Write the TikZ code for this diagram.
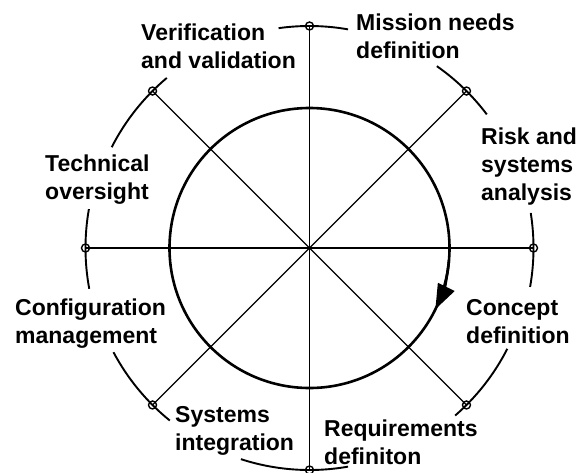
\documentclass[tikz,border=0pt]{standalone}
\usepackage{fontspec}
\setmainfont{Liberation Sans}
\usetikzlibrary{arrows.meta}

\begin{document}
\begin{tikzpicture}[x=1pt,y=1pt,>={Triangle[length=25pt,width=18pt]},
                    font=\fontsize{23}{28}\selectfont\bfseries]
	\tikzstyle{dot}=[circle,draw=black,fill=none,line width=1.4pt,inner sep=0pt,minimum size=8pt]
	\tikzstyle{spoke}=[line width=1.2pt]
	\tikzstyle{rim}=[line width=1.9pt]
	\tikzstyle{phase}=[anchor=base west,align=left,inner sep=0pt]
	\def\R{222}
	\useasboundingbox (-309.5,-224) rectangle (275.5,248);

	\node[dot] (N)  at (90:\R)  {};
	\node[dot] (NE) at (45:\R)  {};
	\node[dot] (E)  at (0:224)  {};
	\node[dot] (SE) at (-45:\R) {};
	\node[dot] (S)  at (-90:\R) {};
	\node[dot] (SW) at (225:\R) {};
	\node[dot] (W)  at (180:224) {};
	\node[dot] (NW) at (135:\R) {};

	\draw[spoke] (N.center) -- (S.center);
	\draw[spoke] (W.center) -- (E.center);
	\draw[spoke] (NW.center) -- (SE.center);
	\draw[spoke] (NE.center) -- (SW.center);

	\draw[line width=2.6pt] (0,0) circle[radius=140];
	\draw[line width=2.6pt,->] (-5:140) arc[start angle=-5,end angle=-26,radius=140];

	% outer rim pieces between the labels
	\draw[rim] (98:\R)  arc[start angle=98,end angle=80,radius=\R];
	\draw[rim] (55:\R)  arc[start angle=55,end angle=37,radius=\R];
	\draw[rim] (9:224)  arc[start angle=9,end angle=-10,radius=224];
	\draw[rim] (-27:\R) arc[start angle=-27,end angle=-49,radius=\R];
	\draw[rim] (-108:\R) arc[start angle=-108,end angle=-80,radius=\R];
	\draw[rim] (208:\R) arc[start angle=208,end angle=231,radius=\R];
	\draw[rim] (170:224) arc[start angle=170,end angle=190.5,radius=224];
	\draw[rim] (130:\R) arc[start angle=130,end angle=153,radius=\R];

	\node[phase] (vv)  at (-168.5,180) {Verification\\and validation};
	\node[phase] (mnd) at (46.5,190)   {Mission needs\\definition};
	\node[phase] (rsa) at (171.5,48)   {Risk and\\systems\\analysis};
	\node[phase] (cd)  at (156.5,-95)  {Concept\\definition};
	\node[phase] (rd)  at (14.5,-216)  {Requirements\\definiton};
	\node[phase] (si)  at (-134.5,-202) {Systems\\integration};
	\node[phase] (cm)  at (-294.5,-95) {Configuration\\management};
	\node[phase] (to)  at (-264.5,49)  {Technical\\oversight};
\end{tikzpicture}
\end{document}
